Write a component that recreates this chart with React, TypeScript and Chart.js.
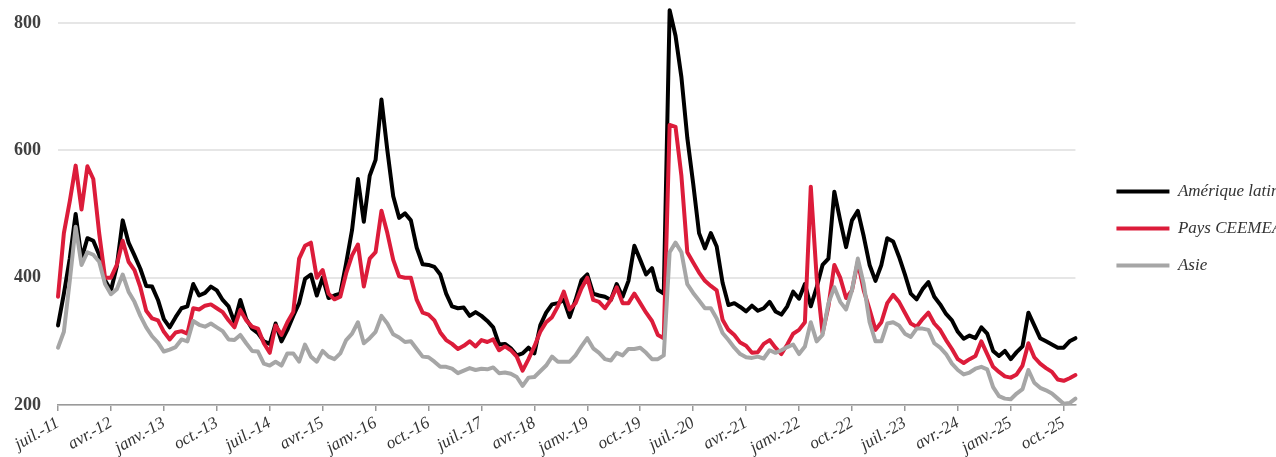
import React, { useEffect, useRef } from 'react';
import { Chart, registerables } from 'chart.js';

Chart.register(...registerables);

// Monthly observations, index 0 = juillet 2011
const SERIES_NAMES = ['Amérique latine', 'Pays CEEMEA', 'Asie'];
const SERIES_COLORS = ['#000000', '#DC1C3A', '#A6A6A6'];

const TICK_LABELS = [
  'juil.-11', 'avr.-12', 'janv.-13', 'oct.-13', 'juil.-14', 'avr.-15', 'janv.-16',
  'oct.-16', 'juil.-17', 'avr.-18', 'janv.-19', 'oct.-19', 'juil.-20', 'avr.-21',
  'janv.-22', 'oct.-22', 'juil.-23', 'avr.-24', 'janv.-25', 'oct.-25',
];
const TICK_STEP_MONTHS = 9;

const Y_MIN = 200;
const Y_MAX = 800;
const Y_STEP = 200;

const AMERIQUE_LATINE = [
  325, 375, 430, 500, 430, 462, 458, 436, 396, 380,
  418, 490, 455, 435, 414, 387, 386, 365, 335, 322,
  338, 352, 355, 390, 372, 376, 386, 380, 365, 355,
  330, 365, 335, 320, 313, 300, 296, 328, 300, 318,
  340, 360, 398, 405, 372, 400, 368, 372, 375, 423,
  475, 555, 488, 560, 585, 680, 600, 528, 494, 501,
  490, 447, 421, 420, 417, 405, 375, 355, 352, 353,
  340, 346, 340, 332, 322, 295, 296, 289, 278, 281,
  290, 281, 325, 345, 358, 360, 365, 338, 365, 396,
  405, 375, 372, 370, 365, 390, 370, 395, 450, 428,
  405, 415, 381, 375, 820, 780, 715, 620, 548, 470,
  446, 470, 449, 392, 357, 360, 354, 347, 356, 348,
  352, 362, 347, 342, 355, 378, 367, 390, 355, 385,
  420, 430, 535, 490, 448, 490, 505, 465, 420, 395,
  420, 462, 457, 433, 405, 375, 366, 382, 393, 370,
  358, 343, 333, 315, 304, 309, 305, 322, 312, 285,
  277, 285, 272, 283, 292, 345, 325, 305, 300, 295,
  290, 290, 300, 305,
];

const PAYS_CEEMEA = [
  370, 470, 520, 576, 507, 575, 555, 470, 400, 400,
  420, 458, 425, 412, 385, 348, 336, 333, 315, 303,
  314, 316, 312, 352, 350, 356, 358, 352, 346, 333,
  322, 349, 333, 323, 320, 297, 282, 325, 310, 330,
  346, 430, 450, 455, 400, 412, 375, 366, 370, 407,
  435, 452, 386, 430, 440, 505, 470, 428, 402, 400,
  400, 365, 345, 342, 333, 314, 302, 296, 288, 293,
  300, 292, 302, 299, 303, 286, 292, 286, 276, 254,
  272, 292, 315, 330, 338, 355, 378, 350, 360, 383,
  400, 365, 362, 352, 365, 385, 360, 360, 375, 360,
  345, 332, 310, 305, 640, 637, 560, 440, 424, 408,
  395, 387, 380, 334, 318, 310, 298, 293, 282, 283,
  296, 302, 290, 280, 295, 312, 318, 330, 543, 400,
  313, 355, 420, 400, 368, 380, 425, 380, 350, 318,
  330, 360, 373, 362, 345, 328, 323, 335, 345, 328,
  318, 302, 288, 272, 266, 272, 277, 300, 280, 260,
  252, 245, 243, 248, 262, 297, 275, 265, 258, 252,
  240, 238, 242, 247,
];

const ASIE = [
  290, 315, 395, 480, 420, 440, 436, 425, 390, 374,
  382, 405, 378, 362, 340, 322, 308, 298, 284, 287,
  291, 303, 300, 332, 326, 323, 328, 322, 316, 303,
  302, 310, 297, 285, 284, 265, 262, 268, 262, 281,
  281, 268, 295, 276, 268, 285, 276, 272, 281, 302,
  312, 330, 297, 305, 315, 340, 328, 311, 306, 299,
  300, 288, 276, 275, 268, 260, 260, 257, 250, 254,
  258, 255, 257, 256, 259, 250, 251, 249, 244, 230,
  243, 244, 253, 262, 276, 268, 268, 268, 278, 292,
  305, 289, 282, 272, 270, 282, 278, 288, 288, 290,
  282, 272, 272, 278, 440, 455, 440, 390, 376, 364,
  352, 352, 336, 313, 302, 290, 280, 275, 274, 276,
  273, 286, 282, 286, 291, 295, 280, 292, 330, 300,
  310, 360, 385, 362, 350, 380, 430, 390, 330, 300,
  300, 328, 330, 325, 312, 307, 320, 320, 318, 297,
  290, 280, 265, 255, 248, 251, 257, 260, 256, 228,
  214, 210, 209, 218, 225, 255, 235, 227, 223, 218,
  210, 202, 203, 210,
];

const SERIES_VALUES = [AMERIQUE_LATINE, PAYS_CEEMEA, ASIE];

export default function App() {
  const canvasRef = useRef<HTMLCanvasElement | null>(null);

  useEffect(() => {
    if (!canvasRef.current) return;
    const datasets = SERIES_VALUES.map((vals, k) => ({
      label: SERIES_NAMES[k],
      data: vals.map((y, i) => ({ x: i, y })),
      borderColor: SERIES_COLORS[k],
      backgroundColor: SERIES_COLORS[k],
      borderWidth: 4,
      pointRadius: 0,
      tension: 0,
      clip: false as const,
      borderJoinStyle: 'round' as const,
      borderCapStyle: 'round' as const,
      order: 3 - k,
    }));

    const chart = new Chart(canvasRef.current, {
      type: 'line',
      data: { datasets },
      options: {
        animation: false,
        responsive: true,
        maintainAspectRatio: false,
        layout: { padding: { left: 14, top: 0, right: 0, bottom: 0 } },
        plugins: {
          tooltip: { enabled: false },
          legend: {
            position: 'right',
            labels: {
              boxWidth: 53,
              boxHeight: 4,
              padding: 20,
              color: '#333333',
              font: { family: 'Liberation Serif', style: 'italic', size: 17 },
              sort: (a: any, b: any) => a.datasetIndex - b.datasetIndex,
              generateLabels: (c: any) =>
                (Chart.defaults.plugins.legend.labels.generateLabels as any)(c).map((l: any) => ({
                  ...l,
                  fillStyle: l.strokeStyle,
                  lineWidth: 0,
                })),
            },
          },
        },
        scales: {
          x: {
            type: 'linear',
            min: 0,
            max: AMERIQUE_LATINE.length - 1,
            afterBuildTicks: (s: any) => {
              s.ticks = TICK_LABELS.map((_, i) => ({ value: i * TICK_STEP_MONTHS }));
            },
            afterFit: (s: any) => {
              s.paddingLeft = 0;
              s.paddingRight = 0;
              s.height = 52;
            },
            ticks: {
              autoSkip: false,
              minRotation: 30,
              maxRotation: 30,
              padding: 2,
              color: '#333333',
              font: { family: 'Liberation Serif', style: 'italic', size: 17 },
              callback: (_v: any, i: number) => TICK_LABELS[i] ?? '',
            },
            grid: {
              display: true,
              drawOnChartArea: false,
              drawTicks: true,
              tickLength: 6,
              color: '#9a9a9a',
              lineWidth: 1.5,
            },
            border: { display: true, color: '#9a9a9a', width: 1.5 },
          },
          y: {
            type: 'linear',
            min: Y_MIN,
            max: Y_MAX,
            afterFit: (s: any) => {
              s.width = 44;
            },
            ticks: {
              stepSize: Y_STEP,
              padding: 17,
              color: '#404040',
              font: { family: 'Liberation Serif', weight: 'bold', size: 18, lineHeight: 0.67 },
            },
            grid: { color: '#e6e6e6', lineWidth: 2, drawTicks: false },
            border: { display: false },
          },
          gap: {
            type: 'linear',
            position: 'right',
            display: true,
            grid: { display: false, drawTicks: false },
            border: { display: false },
            ticks: { display: false },
            afterFit: (s: any) => {
              s.width = 21;
            },
          },
        },
      },
    });
    return () => chart.destroy();
  }, []);

  return (
    <div
      style={{
        position: 'fixed',
        left: 0,
        top: 0,
        width: 1276,
        height: 457,
        overflow: 'hidden',
        background: '#ffffff',
      }}
    >
      <div style={{ position: 'relative', width: 1297, height: 457 }}>
        <canvas ref={canvasRef} />
      </div>
    </div>
  );
}
